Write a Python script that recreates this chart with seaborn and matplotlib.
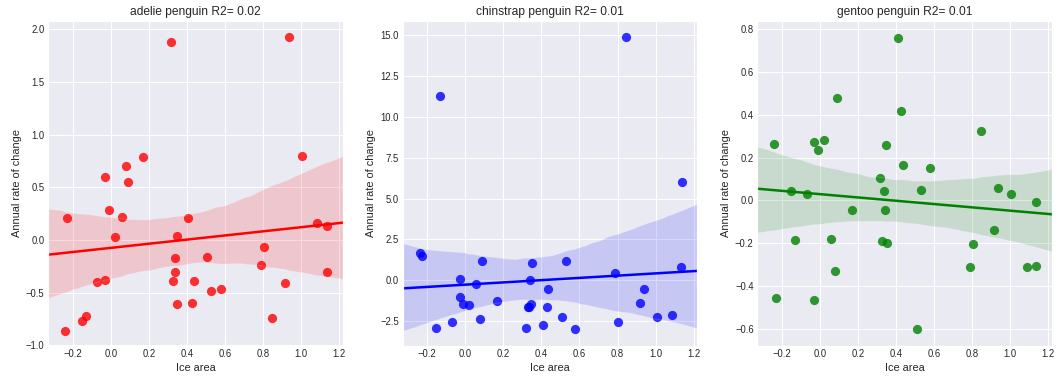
import numpy as np
import pandas as pd
from matplotlib import pyplot as plt
import seaborn as sns

# ice area anomaly (same x for the three species)
ice_area = [-0.24, -0.23, -0.153, -0.132, -0.07, -0.03, -0.03, -0.01, 0.02, 0.057,
            0.078, 0.088, 0.167, 0.318, 0.327, 0.337, 0.340, 0.347, 0.350, 0.408,
            0.428, 0.437, 0.508, 0.529, 0.578, 0.787, 0.805, 0.847, 0.917, 0.937,
            1.007, 1.086, 1.136, 1.137]

# annual rate of change per species
adelie = [-0.86, 0.206, -0.77, -0.72, -0.40, -0.38, 0.595, 0.29, 0.03, 0.22,
          0.70, 0.55, 0.785, 1.877, -0.39, -0.174, -0.30, 0.035, -0.61, 0.21,
          -0.60, -0.39, -0.165, -0.48, -0.46, -0.24, -0.07, -0.74, -0.41, 1.93,
          0.80, 0.158, 0.136, -0.30]
chinstrap = [1.67, 1.50, -2.91, 11.28, -2.56, 0.08, -1.04, -1.44, -1.50, -0.24,
             -2.38, 1.18, -1.28, -2.91, -1.59, -1.63, 0.0, -1.44, 1.04, -2.72,
             -1.59, -0.55, -2.24, 1.18, -2.99, 0.45, -2.54, 14.88, -1.38, -0.55,
             -2.24, -2.11, 0.81, 6.04]
gentoo = [0.266, -0.456, 0.042, -0.185, 0.028, 0.273, -0.466, 0.238, 0.282, -0.181,
          -0.33, 0.478, -0.045, 0.103, -0.19, 0.042, -0.045, 0.259, -0.20, 0.759,
          0.417, 0.164, -0.60, 0.051, 0.151, -0.31, -0.204, 0.327, -0.136, 0.056,
          0.028, -0.31, -0.009, -0.307]

species = ['adelie', 'chinstrap', 'gentoo']
r2_labels = ['0.02', '0.01', '0.01']
cores = ['red', 'blue', 'green']
valores = [adelie, chinstrap, gentoo]
# limites do eixo y de cada painel
ylims = [(-1.005, 2.079), (-4.0, 15.83), (-0.681, 0.839)]

sns.set_theme(style='darkgrid')
plt.rcParams['font.family'] = ['Liberation Sans', 'DejaVu Sans']

fig, axes = plt.subplots(1, 3, figsize=(1062 / 72, 384 / 72), dpi=72)
fig.subplots_adjust(left=0.0452, right=0.9906, bottom=0.099, top=0.945, wspace=0.2024)

for ax, nome, r2, cor, y, yl in zip(axes, species, r2_labels, cores, valores, ylims):
    df = pd.DataFrame({'Ice area': ice_area, 'Annual rate of change': y})
    ax.set_xlim(-0.33, 1.22)
    sns.regplot(data=df, x='Ice area', y='Annual rate of change', ax=ax,
                color=cor, truncate=False, seed=0,
                scatter_kws={'s': 85, 'alpha': 0.8, 'linewidths': 0},
                line_kws={'lw': 2.5})
    ax.set_ylim(*yl)
    ax.set_title(nome + ' penguin R2= ' + r2, fontsize=12, color='.15')
    ax.set_xlabel('Ice area', fontsize=11, color='.15')
    ax.set_ylabel('Annual rate of change', fontsize=11, color='.15')
    ax.tick_params(labelsize=9.5, colors='.15', length=0)
    ax.set_xticks([-0.2, 0.0, 0.2, 0.4, 0.6, 0.8, 1.0, 1.2])

plt.savefig('out.png', dpi=72)
